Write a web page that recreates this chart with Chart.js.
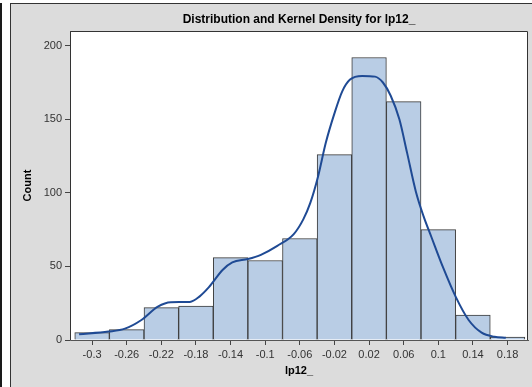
<!DOCTYPE html>
<html>
<head>
<meta charset="utf-8">
<title>Distribution and Kernel Density for lp12_</title>
<script src="https://cdn.jsdelivr.net/npm/chart.js@4.4.0/dist/chart.umd.min.js"></script>
<style>
html, body { margin: 0; padding: 0; background: #fff; }
#wrap { width: 532px; height: 387px; }
</style>
</head>
<body>
<div id="wrap"><canvas id="histChart" width="532" height="387"></canvas></div>
<script>
// histogram bins (midpoints) and counts
const binCenters = [-0.3, -0.26, -0.22, -0.18, -0.14, -0.1, -0.06, -0.02, 0.02, 0.06, 0.1, 0.14, 0.18];
const binCounts = [5, 7, 22, 23, 56, 54, 69, 126, 192, 162, 75, 17, 2];
const tickLabels = ["-0.3", "-0.26", "-0.22", "-0.18", "-0.14", "-0.1", "-0.06", "-0.02", "0.02", "0.06", "0.1", "0.14", "0.18"];
const yTicks = [0, 50, 100, 150, 200];

// kernel density curve (scaled to counts)
const densityX = [-0.315, -0.281, -0.262, -0.243, -0.224, -0.209, -0.187, -0.176, -0.165, -0.149, -0.138, -0.12, -0.105, -0.086, -0.067, -0.056, -0.048, -0.039, -0.03, -0.02, -0.011, -0.002, 0.012, 0.027, 0.036, 0.045, 0.055, 0.064, 0.074, 0.083, 0.092, 0.105, 0.12, 0.135, 0.15, 0.165, 0.178];
const densityY = [3.9, 5.7, 7.7, 13.6, 22.7, 25.7, 25.9, 29.5, 35.9, 47.7, 52.7, 55, 57.9, 64, 72, 82, 93, 111, 134, 154, 169, 177, 179.5, 179, 175, 166, 150, 127, 101, 84, 70, 50, 29.5, 13.6, 5, 2.2, 1.5];

const titleText = "Distribution and Kernel Density for lp12_";
const xTitle = "lp12_";
const yTitle = "Count";

const fontFamily = "'Liberation Sans', Arial, sans-serif";

// grey panel, white plot area, frame and title
const panelPlugin = {
    id: "panel",
    beforeDraw(chart) {
        const ctx = chart.ctx;
        const a = chart.chartArea;
        ctx.save();
        ctx.fillStyle = "#ffffff";
        ctx.fillRect(0, 0, chart.width, chart.height);
        ctx.fillStyle = "#1a1a1a";
        ctx.fillRect(0, 3, 2, chart.height - 3);
        ctx.fillStyle = "#dcdcdc";
        ctx.fillRect(10, 3, chart.width - 10, chart.height - 3);
        ctx.fillStyle = "#333333";
        ctx.fillRect(10, 3, chart.width - 10, 1);
        ctx.fillRect(10, 3, 1, chart.height - 3);
        ctx.fillStyle = "#ffffff";
        ctx.fillRect(a.left, a.top, a.right - a.left, a.bottom - a.top);
        ctx.restore();
    },
    afterDraw(chart) {
        const ctx = chart.ctx;
        const a = chart.chartArea;
        ctx.save();
        ctx.strokeStyle = "#333333";
        ctx.lineWidth = 1;
        ctx.beginPath();
        ctx.moveTo(a.left + 0.5, a.bottom);
        ctx.lineTo(a.left + 0.5, a.top + 0.5);
        ctx.lineTo(a.right - 0.5, a.top + 0.5);
        ctx.lineTo(a.right - 0.5, a.bottom);
        ctx.stroke();
        ctx.fillStyle = "#000000";
        ctx.font = "bold 12px " + fontFamily;
        ctx.textAlign = "center";
        ctx.textBaseline = "middle";
        ctx.fillText(titleText, (a.left + a.right) / 2, 20);
        ctx.restore();
    }
};

const ctx = document.getElementById("histChart").getContext("2d");

new Chart(ctx, {
    type: "bar",
    data: {
        datasets: [{
            type: "line",
            data: densityX.map((x, i) => ({ x: x, y: densityY[i] })),
            borderColor: "#1f4a94",
            borderWidth: 2,
            pointRadius: 0,
            fill: false,
            cubicInterpolationMode: "monotone",
            order: 0
        }, {
            type: "bar",
            data: binCenters.map((x, i) => ({ x: x, y: binCounts[i] })),
            backgroundColor: "#b9cde5",
            borderColor: "#3a3a3a",
            borderWidth: 1,
            barPercentage: 1,
            categoryPercentage: 1,
            order: 1
        }]
    },
    options: {
        responsive: false,
        devicePixelRatio: 1,
        animation: false,
        layout: { padding: { left: 0, top: 31, right: 4, bottom: 0 } },
        plugins: {
            legend: { display: false },
            tooltip: { enabled: false },
            title: { display: false }
        },
        scales: {
            x: {
                type: "linear",
                offset: false,
                min: -0.3255,
                max: 0.2036,
                afterBuildTicks: (scale) => { scale.ticks = binCenters.map(v => ({ value: v })); },
                afterFit: (scale) => { scale.height = 47; },
                ticks: {
                    autoSkip: false,
                    maxRotation: 0,
                    padding: 3,
                    color: "#333333",
                    font: { family: fontFamily, size: 11 },
                    callback: (value, index) => tickLabels[index]
                },
                grid: { offset: false, drawOnChartArea: false, drawTicks: true, tickLength: 5, color: "#444444" },
                border: { display: true, color: "#555555", width: 1 },
                title: {
                    display: true,
                    text: xTitle,
                    color: "#000000",
                    font: { family: fontFamily, size: 11, weight: "bold" },
                    padding: { top: 0, bottom: 9 }
                }
            },
            y: {
                min: 0,
                max: 210,
                afterBuildTicks: (scale) => { scale.ticks = yTicks.map(v => ({ value: v })); },
                afterFit: (scale) => { scale.width = 70; },
                ticks: {
                    padding: 3,
                    color: "#333333",
                    font: { family: fontFamily, size: 11 }
                },
                grid: { drawOnChartArea: false, drawTicks: true, tickLength: 5, color: "#444444" },
                border: { display: true, color: "#666666", width: 1 },
                title: {
                    display: true,
                    text: yTitle,
                    color: "#000000",
                    font: { family: fontFamily, size: 11, weight: "bold" },
                    padding: { top: 21, bottom: 0 }
                }
            }
        }
    },
    plugins: [panelPlugin]
});
</script>
</body>
</html>
